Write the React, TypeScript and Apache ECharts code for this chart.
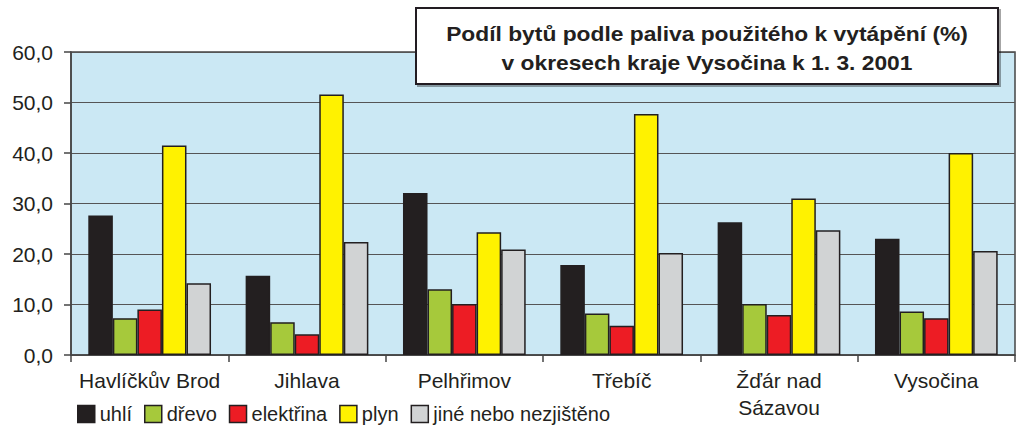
import React, { useEffect, useRef } from "react";
import * as echarts from "echarts";

const categories = ["Havlíčkův Brod", "Jihlava", "Pelhřimov", "Třebíč", "Žďár nad\nSázavou", "Vysočina"];
const uhli = [27.6, 15.7, 32.1, 17.8, 26.3, 23.0];
const drevo = [7.3, 6.5, 13.0, 8.2, 10.1, 8.6];
const elektrina = [9.0, 4.1, 10.1, 5.8, 7.9, 7.3];
const plyn = [41.5, 51.6, 24.3, 47.7, 31.0, 40.0];
const jine = [14.2, 22.4, 20.9, 20.2, 24.7, 20.6];
const seriesNames = ["uhlí", "dřevo", "elektřina", "plyn", "jiné nebo nezjištěno"];
const seriesColors = ["#231f20", "#a6c93b", "#ed1c24", "#fff200", "#d1d3d4"];
const titleLines = ["Podíl bytů podle paliva použitého k vytápění (%)", "v okresech kraje Vysočina k 1. 3. 2001"];

const FONT = "'Liberation Sans', Arial, sans-serif";
const TEXT = "#231f20";

export default function App() {
  const ref = useRef<HTMLDivElement>(null);
  useEffect(() => {
    if (!ref.current) return;
    const chart = echarts.init(ref.current, undefined, { renderer: "svg" });
    const data = [uhli, drevo, elektrina, plyn, jine];
    chart.setOption({
      animation: false,
      textStyle: { fontFamily: FONT },
      grid: {
        left: 71,
        right: 3,
        top: 52,
        bottom: 72,
        show: true,
        backgroundColor: "#cbe8f4",
        borderColor: "#444",
        borderWidth: 1.5,
      },
      legend: {
        left: 77,
        top: 404,
        padding: 0,
        itemWidth: 17,
        itemHeight: 17,
        itemGap: 12,
        icon: "rect",
        itemStyle: { borderColor: "#231f20", borderWidth: 1.5 },
        textStyle: { fontSize: 20, color: TEXT, fontFamily: FONT },
        data: seriesNames,
      },
      xAxis: {
        type: "category",
        data: categories,
        axisLine: { lineStyle: { color: "#444", width: 1.5 } },
        axisTick: { show: true, length: 7, lineStyle: { color: "#444", width: 1.5 } },
        axisLabel: { fontSize: 21, color: TEXT, fontFamily: FONT, margin: 12, lineHeight: 27, interval: 0 },
      },
      yAxis: {
        type: "value",
        min: 0,
        max: 60,
        interval: 10,
        axisLine: { show: true, lineStyle: { color: "#444", width: 1.5 } },
        axisTick: { show: true, length: 7, lineStyle: { color: "#444", width: 1.5 } },
        splitLine: { lineStyle: { color: "#555", width: 1.2 } },
        axisLabel: {
          fontSize: 21,
          color: TEXT,
          fontFamily: FONT,
          margin: 18,
          formatter: (v: number) => v.toFixed(1).replace(".", ","),
        },
      },
      series: seriesNames.map((n, i) => ({
        name: n,
        type: "bar",
        data: data[i],
        barGap: "0%",
        barCategoryGap: "22%",
        itemStyle: { color: seriesColors[i], borderColor: "#231f20", borderWidth: 1.5 },
      })),
      graphic: [
        {
          type: "rect",
          shape: { x: 416, y: 8, width: 582, height: 76 },
          style: { fill: "#fff", stroke: "#231f20", lineWidth: 2, shadowColor: "rgba(0,0,0,0.35)", shadowOffsetX: 2, shadowOffsetY: 2, shadowBlur: 1 },
          z: 100,
        },
        {
          type: "text",
          x: 707,
          y: 34,
          scaleX: 1.14,
          style: { text: titleLines[0], fontSize: 20, fontWeight: "bold", fill: TEXT, fontFamily: FONT, align: "center", verticalAlign: "middle" },
          z: 101,
        },
        {
          type: "text",
          x: 707,
          y: 63,
          scaleX: 1.14,
          style: { text: titleLines[1], fontSize: 20, fontWeight: "bold", fill: TEXT, fontFamily: FONT, align: "center", verticalAlign: "middle" },
          z: 101,
        },
      ],
    });
    return () => chart.dispose();
  }, []);
  return <div ref={ref} style={{ width: 1018, height: 427, position: "absolute", left: 0, top: 0 }} />;
}
